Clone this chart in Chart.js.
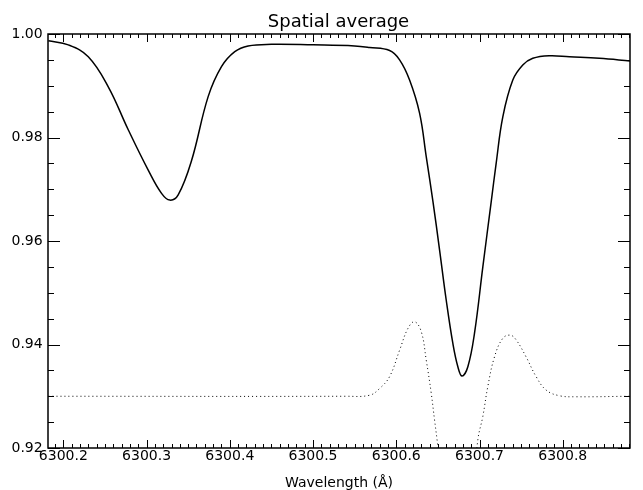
<!DOCTYPE html>
<html>
<head>
<meta charset="utf-8">
<title>Spatial average</title>
<script src="https://cdn.jsdelivr.net/npm/chart.js@4"></script>
<style>
    html, body { margin: 0; padding: 0; background: #fff; }
    #wrap { width: 643px; height: 490px; }
</style>
</head>
<body>
<div id="wrap"><canvas id="profileChart"></canvas></div>
<script>
// Mean line profile (solid)
const profileWave = [6300.182, 6300.206, 6300.230, 6300.254, 6300.278, 6300.302, 6300.318, 6300.328,
    6300.338, 6300.354, 6300.374, 6300.390, 6300.406, 6300.422, 6300.450, 6300.500, 6300.550, 6300.568,
    6300.592, 6300.604, 6300.616, 6300.628, 6300.636, 6300.644, 6300.652, 6300.660, 6300.668, 6300.674,
    6300.679, 6300.686, 6300.694, 6300.704, 6300.714, 6300.720, 6300.728, 6300.740, 6300.752, 6300.764,
    6300.784, 6300.808, 6300.844, 6300.881];
const profileValue = [0.9987, 0.9979, 0.9956, 0.9898, 0.9815, 0.9737, 0.9692, 0.9679,
    0.9689, 0.9755, 0.9879, 0.9937, 0.9966, 0.9977, 0.9980, 0.9979, 0.9977, 0.9974,
    0.9968, 0.9950, 0.9911, 0.9847, 0.9763, 0.9677, 0.9583, 0.9486, 0.9402, 0.9357,
    0.9339, 0.9357, 0.9422, 0.9550, 0.9675, 0.9750, 0.9840, 0.9911, 0.9940, 0.9953,
    0.9958, 0.9956, 0.9953, 0.9948];

// Secondary curve (dotted), dips below the plot range near line centre
const dottedWave = [6300.182, 6300.540, 6300.568, 6300.580, 6300.592, 6300.604, 6300.614, 6300.622,
    6300.630, 6300.636, 6300.642, 6300.646, 6300.649, 6300.660, 6300.676, 6300.690, 6300.698, 6300.704,
    6300.710, 6300.718, 6300.728, 6300.737, 6300.744, 6300.756, 6300.768, 6300.780, 6300.796, 6300.816,
    6300.881];
const dottedValue = [0.9300, 0.9300, 0.9302, 0.9315, 0.9338, 0.9389, 0.9431, 0.9444,
    0.9425, 0.9370, 0.9306, 0.9254, 0.9216, 0.9060, 0.8950, 0.9080, 0.9216, 0.9261,
    0.9319, 0.9376, 0.9412, 0.9418, 0.9409, 0.9376, 0.9338, 0.9312, 0.9301, 0.9299,
    0.9300];

// Tick labels
const xTicks = [6300.2, 6300.3, 6300.4, 6300.5, 6300.6, 6300.7, 6300.8];
const yTicks = [0.92, 0.94, 0.96, 0.98, 1.00];

const toPoints = (xs, ys) => xs.map((x, i) => ({ x: x, y: ys[i] }));

// Box around the plot with inward ticks on all four sides
const frameTicks = {
    id: 'frameTicks',
    afterDatasetsDraw(chart) {
        const { ctx, chartArea: { left, right, top, bottom }, scales: { x, y } } = chart;
        ctx.save();
        ctx.strokeStyle = '#000';
        ctx.lineWidth = 1;
        ctx.beginPath();
        // x ticks every 0.01, major every 0.1
        for (let k = Math.ceil(x.min * 100); k <= Math.floor(x.max * 100); k++) {
            const px = Math.round(x.getPixelForValue(k / 100)) + 0.5;
            const len = k % 10 === 0 ? 8 : 4;
            ctx.moveTo(px, bottom); ctx.lineTo(px, bottom - len);
            ctx.moveTo(px, top); ctx.lineTo(px, top + len);
        }
        // y ticks every 0.005, major every 0.02
        for (let k = Math.round(y.min * 200); k <= Math.round(y.max * 200); k++) {
            const py = Math.round(y.getPixelForValue(k / 200)) + 0.5;
            const len = k % 4 === 0 ? 12 : 6;
            ctx.moveTo(left, py); ctx.lineTo(left + len, py);
            ctx.moveTo(right, py); ctx.lineTo(right - len, py);
        }
        ctx.stroke();
        ctx.lineWidth = 1.5;
        ctx.strokeRect(left, top, right - left, bottom - top);
        ctx.restore();
    }
};

Chart.defaults.font.family = '"DejaVu Sans", sans-serif';
Chart.defaults.color = '#000';

const createProfileChart = () => {
    const ctx = document.getElementById('profileChart').getContext('2d');
    return new Chart(ctx, {
        type: 'line',
        data: {
            datasets: [{
                data: toPoints(profileWave, profileValue),
                borderColor: '#000',
                borderWidth: 1.5,
                pointRadius: 0,
                tension: 0.4
            }, {
                data: toPoints(dottedWave, dottedValue),
                borderColor: '#000',
                borderWidth: 1,
                borderDash: [1, 3],
                pointRadius: 0,
                tension: 0.4
            }]
        },
        options: {
            responsive: true,
            maintainAspectRatio: false,
            animation: false,
            // wide left padding keeps the title centred over the plot box;
            // the mirrored y labels are pushed back out into it
            layout: { padding: { left: 47, right: 13, top: 0, bottom: 0 } },
            plugins: {
                legend: { display: false },
                tooltip: { enabled: false },
                title: {
                    display: true,
                    text: 'Spatial average',
                    font: { size: 18, weight: 'normal' },
                    padding: { top: 11.2, bottom: 1.2 }
                }
            },
            scales: {
                x: {
                    type: 'linear',
                    min: 6300.1816,
                    max: 6300.8808,
                    grid: { display: false, drawTicks: false },
                    border: { display: false },
                    afterBuildTicks: (scale) => { scale.ticks = xTicks.map(v => ({ value: v })); },
                    afterFit: (scale) => {
                        scale.height = 42;
                        scale.paddingLeft = 0;
                        scale.paddingRight = 0;
                    },
                    ticks: {
                        padding: 0,
                        maxRotation: 0,
                        font: { size: 14 },
                        callback: (v) => Number(v).toFixed(1)
                    },
                    title: {
                        display: true,
                        text: 'Wavelength (Å)',
                        font: { size: 14, lineHeight: 1 },
                        padding: { top: 0, bottom: 0 }
                    }
                },
                y: {
                    min: 0.92,
                    max: 1.00,
                    grid: { display: false, drawTicks: false },
                    border: { display: false },
                    afterBuildTicks: (scale) => { scale.ticks = yTicks.map(v => ({ value: v })); },
                    afterFit: (scale) => {
                        scale.width = 1;
                        scale.paddingTop = 0;
                        scale.paddingBottom = 0;
                    },
                    ticks: {
                        mirror: true,
                        crossAlign: 'far',
                        padding: -36.5,
                        font: { size: 14 },
                        callback: (v) => Number(v).toFixed(2)
                    }
                }
            }
        },
        plugins: [frameTicks]
    });
};

document.addEventListener('DOMContentLoaded', () => {
    const profileChart = createProfileChart();
});
</script>
</body>
</html>
